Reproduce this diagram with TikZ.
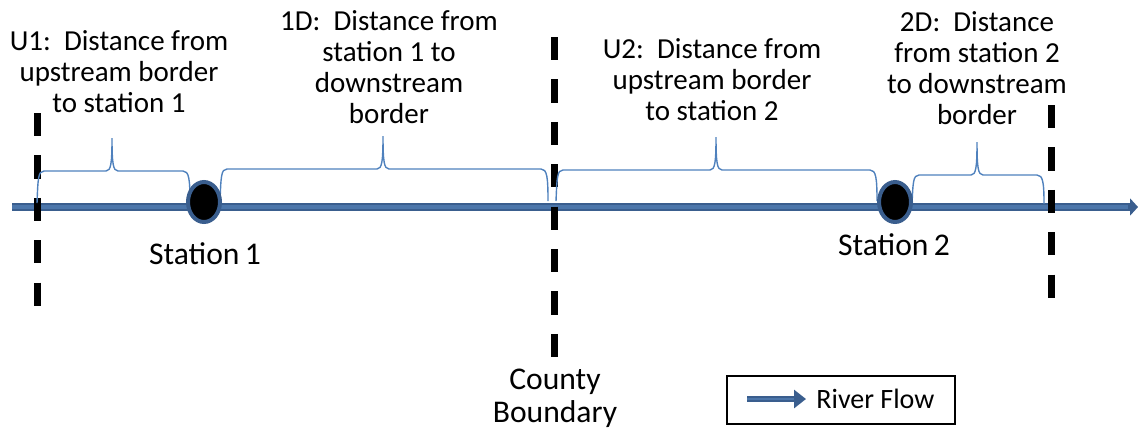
\documentclass[tikz,border=0pt]{standalone}
\usepackage{fontspec}
\setmainfont{Carlito}
\usetikzlibrary{arrows.meta,shapes.geometric}
\definecolor{riverdark}{HTML}{3A5E8E}
\definecolor{riverblue}{HTML}{4C76AA}
\definecolor{bracecol}{HTML}{4F81BD}
\begin{document}
\begin{tikzpicture}[
  x=0.5pt, y=-0.5pt,
  label/.style={align=center, inner sep=0pt, font=\fontsize{14.5}{15.5}\selectfont},
  bigtext/.style={align=center, inner sep=0pt, font=\fontsize{15.8}{16.5}\selectfont},
  border/.style={line width=3.5pt, black, dash pattern=on 11.6pt off 9.6pt},
  station/.style={ellipse, draw=riverdark, line width=2pt, fill=black,
    minimum width=16pt, minimum height=20pt, inner sep=0pt},
  span/.style={bracecol, line width=0.7pt},
  river/.style={riverdark, line width=4.2pt, -{Triangle[length=4pt,width=8.5pt]}},
  legbox/.style={draw, line width=0.6pt, minimum width=114pt, minimum height=24pt, inner sep=0pt}
]
\useasboundingbox (0,0) rectangle (1138,436);

% River
\coordinate (src) at (12,207);
\coordinate (mouth) at (1138,207);
\draw[river] (src) -- (mouth);
\draw[riverblue, line width=1.6pt] (src) -- (1128,207);

% Borders
\draw[border] (37,113) -- (37,309);
\draw[border] (554,37) -- (554,358);
\draw[border] (1051,105) -- (1051,299);

% Spans (braces)
\foreach \xa/\xm/\xb/\yb/\ye in {37/112/190/171/203, 220/383/548/169/201,
                                 556/716/877/170/201, 912/977/1044/175/204}{
  \draw[span] (\xa,\ye) .. controls (\xa+1,\yb+8) and (\xa+1,\yb) .. (\xa+7,\yb)
    -- (\xm-6,\yb) .. controls (\xm-1,\yb) and (\xm,\yb-8) .. (\xm,\yb-33)
    .. controls (\xm,\yb-8) and (\xm+1,\yb) .. (\xm+6,\yb)
    -- (\xb-7,\yb) .. controls (\xb-1,\yb) and (\xb,\yb+8) .. (\xb,\ye);
}

% Stations
\node[station] (st1) at (204,202) {};
\node[station] (st2) at (895,202) {};
\node[bigtext] (st1lab) at (205,254) {Station\,1};
\node[bigtext] (st2lab) at (894,245) {Station\,2};

% Span labels
\node[label, fill=white] (u1) at (119,72) {U1:\ \ Distance from\\upstream border\\to station 1};
\node[label] (d1) at (389,67) {1D:\ \ Distance from\\station 1 to\\downstream\\border};
\node[label] (u2) at (712,80) {U2:\ \ Distance from\\upstream border\\to station 2};
\node[label] (d2) at (977,68) {2D:\ \ Distance\\from station 2\\to downstream\\border};

\node[bigtext] (county) at (555,398) {County\\Boundary};

% Legend
\node[legbox] (leg) at (841,400) {};
\coordinate (legA) at (747,399);
\coordinate (legB) at (806,399);
\draw[riverdark, line width=3pt, -{Triangle[length=6pt,width=9pt]}] (legA) -- (legB);
\draw[riverblue, line width=1.2pt] (legA) -- (794,399);
\node[label, font=\fontsize{14}{15}\selectfont, anchor=west] (flow) at (816,399) {River Flow};

\end{tikzpicture}
\end{document}
